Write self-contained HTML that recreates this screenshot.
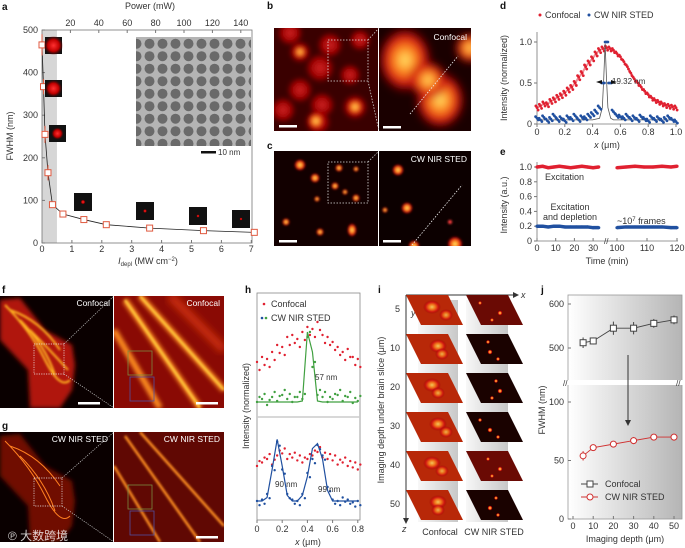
<!DOCTYPE html>
<html><head><meta charset="utf-8">
<style>
html,body{margin:0;padding:0;background:#fff;}
svg{display:block;font-family:"Liberation Sans","Noto Sans CJK SC",sans-serif;}
.t{font-size:9px;fill:#333;}
.s{font-size:8px;fill:#333;}
.L{font-size:10px;font-weight:bold;fill:#111;}
.w{font-size:8.5px;fill:#fff;}
</style></head><body>
<svg id="s" width="685" height="548" viewBox="0 0 685 548">
<defs>
<filter id="b1"><feGaussianBlur stdDeviation="1"/></filter>
<filter id="b2"><feGaussianBlur stdDeviation="2.2"/></filter>
<filter id="b4"><feGaussianBlur stdDeviation="4"/></filter>
<radialGradient id="spot"><stop offset="0" stop-color="#ffec70"/><stop offset="0.35" stop-color="#ff8c20"/><stop offset="0.7" stop-color="#d41212"/><stop offset="1" stop-color="#900000" stop-opacity="0"/></radialGradient>
<radialGradient id="rspot"><stop offset="0" stop-color="#ff3030"/><stop offset="0.6" stop-color="#c00000"/><stop offset="1" stop-color="#600000" stop-opacity="0"/></radialGradient>
<linearGradient id="jbg" x1="0" x2="1"><stop offset="0" stop-color="#fff"/><stop offset="1" stop-color="#b5b5b5"/></linearGradient>
<linearGradient id="ibg" x1="0" x2="1"><stop offset="0" stop-color="#f4f4f4"/><stop offset="1" stop-color="#b0b0b0"/></linearGradient>
<pattern id="tem" width="13" height="12.5" patternUnits="userSpaceOnUse"><rect width="13" height="12.5" fill="#b4b4b4"/><circle cx="6.5" cy="6.2" r="5" fill="#6a6a6a"/></pattern>
<clipPath id="cb1"><rect x="274" y="28" width="104" height="103"/></clipPath>
<clipPath id="cb2"><rect x="379" y="28" width="92" height="103"/></clipPath>
<clipPath id="cc1"><rect x="274" y="151" width="104" height="95"/></clipPath>
<clipPath id="cc2"><rect x="379" y="151" width="92" height="95"/></clipPath>
<clipPath id="cf1"><rect x="0" y="296" width="113" height="112"/></clipPath>
<clipPath id="cf2"><rect x="114" y="296" width="110" height="112"/></clipPath>
<clipPath id="cg1"><rect x="0" y="432" width="113" height="110"/></clipPath>
<clipPath id="cg2"><rect x="114" y="432" width="110" height="110"/></clipPath>
</defs>

<text class="L" x="2" y="10">a</text>
<text class="L" x="267" y="9">b</text>
<text class="L" x="267" y="149">c</text>
<text class="L" x="500" y="9">d</text>
<text class="L" x="500" y="155">e</text>
<text class="L" x="2" y="293">f</text>
<text class="L" x="2" y="429">g</text>
<text class="L" x="245" y="293">h</text>
<text class="L" x="378" y="293">i</text>
<text class="L" x="541" y="293">j</text>

<g clip-path="url(#cb1)"><rect x="274" y="28" width="104" height="103" fill="#3a0000"/><g id="gb1" filter="url(#b2)"></g>
<rect x="328" y="40" width="40" height="41" fill="none" stroke="#ddd" stroke-dasharray="1.5,1.5" stroke-width="0.8"/>
<rect x="279" y="125" width="18" height="2.5" fill="#fff"/></g>
<g clip-path="url(#cb2)"><rect x="379" y="28" width="92" height="103" fill="#1a0000"/><g id="gb2" filter="url(#b4)"></g>
<line x1="410" y1="114" x2="458" y2="56" stroke="#eee" stroke-dasharray="1.5,1.5" stroke-width="0.8"/>
<rect x="383" y="126" width="18" height="2.5" fill="#fff"/>
<text class="w" x="467" y="40" text-anchor="end">Confocal</text></g>
<line x1="368" y1="40" x2="379" y2="28" stroke="#ccc" stroke-dasharray="1.5,1.5" stroke-width="0.8"/>
<line x1="368" y1="81" x2="379" y2="131" stroke="#ccc" stroke-dasharray="1.5,1.5" stroke-width="0.8"/>
<g clip-path="url(#cc1)"><rect x="274" y="151" width="104" height="95" fill="#120000"/><g id="gc1" filter="url(#b1)"></g>
<rect x="328" y="162" width="40" height="41" fill="none" stroke="#ddd" stroke-dasharray="1.5,1.5" stroke-width="0.8"/>
<rect x="279" y="240" width="18" height="2.5" fill="#fff"/></g>
<g clip-path="url(#cc2)"><rect x="379" y="151" width="92" height="95" fill="#0c0000"/><g id="gc2" filter="url(#b1)"></g>
<line x1="412" y1="245" x2="462" y2="185" stroke="#eee" stroke-dasharray="1.5,1.5" stroke-width="0.8"/>
<rect x="383" y="240" width="18" height="2.5" fill="#fff"/>
<text class="w" x="467" y="162" text-anchor="end">CW NIR STED</text></g>
<line x1="368" y1="162" x2="379" y2="151" stroke="#ccc" stroke-dasharray="1.5,1.5" stroke-width="0.8"/>

<g clip-path="url(#cf1)"><rect x="0" y="296" width="113" height="112" fill="#0a0000"/>
<path d="M0,300 L20,298 L45,330 L72,345 L75,365 L72,390 L60,408 L30,408 L28,370 L0,340Z" fill="#b01808" filter="url(#b2)"/>
<path d="M5,305 Q30,330 45,360 T70,380 M10,310 Q40,320 60,350 M20,320 Q45,345 55,375 M30,330 Q50,350 68,370" stroke="#ffb020" stroke-width="2" fill="none" filter="url(#b1)"/>
<rect x="34" y="344" width="30" height="30" fill="none" stroke="#eee" stroke-dasharray="1.2,1.2" stroke-width="0.7"/>
<rect x="78" y="402" width="22" height="2.5" fill="#fff"/>
<text class="w" x="110" y="306" text-anchor="end">Confocal</text></g>
<g clip-path="url(#cf2)"><rect x="114" y="296" width="110" height="112" fill="#8a0a04"/>
<path d="M125,300 L200,408 M114,330 L160,408 M140,296 L224,390" stroke="#ff9020" stroke-width="6" fill="none" filter="url(#b2)"/>
<path d="M125,300 L200,408 M140,296 L224,390" stroke="#ffd040" stroke-width="2" fill="none" filter="url(#b1)"/>
<path d="M170,296 L224,350" stroke="#d03010" stroke-width="8" fill="none" filter="url(#b4)"/>
<rect x="128" y="351" width="24" height="24" fill="none" stroke="#7a8a40" stroke-width="0.8"/>
<rect x="130" y="377" width="24" height="24" fill="none" stroke="#5050a0" stroke-width="0.8"/>
<rect x="196" y="402" width="22" height="2.5" fill="#fff"/>
<text class="w" x="220" y="306" text-anchor="end">Confocal</text></g>
<g clip-path="url(#cg1)"><rect x="0" y="432" width="113" height="110" fill="#0a0000"/>
<path d="M0,436 L20,434 L45,466 L72,481 L75,501 L72,526 L60,542 L30,542 L28,506 L0,476Z" fill="#701005" filter="url(#b2)"/>
<path d="M5,441 Q30,466 45,496 T70,516 M10,446 Q40,456 60,486 M20,456 Q45,481 55,511" stroke="#ff8020" stroke-width="1" fill="none"/>
<rect x="34" y="478" width="28" height="28" fill="none" stroke="#eee" stroke-dasharray="1.2,1.2" stroke-width="0.7"/>
<text class="w" x="108" y="442" text-anchor="end">CW NIR STED</text></g>
<g clip-path="url(#cg2)"><rect x="114" y="432" width="110" height="110" fill="#600803"/>
<path d="M125,436 L200,542 M114,466 L160,542 M140,432 L224,526" stroke="#ff9020" stroke-width="2.5" fill="none" filter="url(#b1)"/>
<rect x="128" y="485" width="24" height="24" fill="none" stroke="#7a8a40" stroke-width="0.8"/>
<rect x="130" y="511" width="24" height="24" fill="none" stroke="#5050a0" stroke-width="0.8"/>
<rect x="196" y="536" width="22" height="2.5" fill="#fff"/>
<text class="w" x="220" y="442" text-anchor="end">CW NIR STED</text></g>
<line x1="64" y1="344" x2="114" y2="296" stroke="#ccc" stroke-dasharray="1.2,1.2" stroke-width="0.7"/>
<line x1="64" y1="374" x2="114" y2="408" stroke="#ccc" stroke-dasharray="1.2,1.2" stroke-width="0.7"/>
<line x1="62" y1="478" x2="114" y2="432" stroke="#ccc" stroke-dasharray="1.2,1.2" stroke-width="0.7"/>
<line x1="62" y1="506" x2="114" y2="542" stroke="#ccc" stroke-dasharray="1.2,1.2" stroke-width="0.7"/>
<text x="8" y="540" font-size="12" fill="#fff" opacity="0.8">℗ 大数跨境</text>

<g id="charts"></g>
</svg>
<script>
var NS="http://www.w3.org/2000/svg";
var root=document.getElementById('charts');
function mk(tag,attrs,parent,txt){var e=document.createElementNS(NS,tag);for(var k in attrs)e.setAttribute(k,attrs[k]);if(txt!==undefined)e.textContent=txt;(parent||root).appendChild(e);return e;}

var aIdepl=[0.0,0.05,0.1,0.2,0.35,0.7,1.4,2.15,3.6,5.4,7.1];
var aFwhm=[465,367,255,165,90,68,55,43,35,29,25];
var aErr=[25,18,20,18,6,8,5,3,3,3,3];
var aXTicks=[0,1,2,3,4,5,6,7];
var aYTicks=[0,100,200,300,400,500];
var aPowerTicks=[20,40,60,80,100,120,140];

var dX=[0,0.025,0.05,0.075,0.1,0.125,0.15,0.175,0.2,0.225,0.25,0.275,0.3,0.325,0.35,0.375,0.4,0.425,0.45,0.475,0.5,0.525,0.55,0.575,0.6,0.625,0.65,0.675,0.7,0.725,0.75,0.775,0.8,0.825,0.85,0.875,0.9,0.925,0.95,0.975,1.0];
var dConfocal=[0.2,0.22,0.25,0.24,0.28,0.3,0.33,0.35,0.38,0.42,0.45,0.5,0.57,0.62,0.7,0.75,0.8,0.86,0.9,0.92,0.93,0.92,0.9,0.86,0.82,0.76,0.7,0.62,0.55,0.5,0.45,0.4,0.36,0.32,0.29,0.27,0.25,0.23,0.22,0.21,0.2];
var dSted=[0.07,0.05,0.08,0.04,0.06,0.1,0.05,0.07,0.04,0.08,0.06,0.1,0.05,0.08,0.07,0.1,0.12,0.15,0.2,0.5,1.0,0.5,0.15,0.1,0.09,0.07,0.1,0.06,0.08,0.05,0.09,0.06,0.04,0.08,0.05,0.07,0.04,0.06,0.08,0.05,0.03];
var dFitX=[0,0.4,0.45,0.47,0.48,0.49,0.5,0.51,0.53,0.55,1.0];
var dFitY=[0.05,0.05,0.07,0.2,0.55,0.98,0.55,0.2,0.07,0.05,0.05];

var eTimeL=[0,3,6,9,12,15,18,21,24,27,30,33];
var eTimeR=[100,103,106,109,112,115,118,120];
var eExcL=[1.0,1.01,0.99,1.0,1.01,1.0,0.99,1.0,1.01,1.0,0.99,1.0];
var eExcR=[0.99,1.0,1.01,1.0,1.0,1.01,1.0,1.01];
var eDepL=[0.2,0.2,0.19,0.2,0.2,0.19,0.19,0.19,0.19,0.19,0.18,0.18];
var eDepR=[0.18,0.19,0.19,0.19,0.19,0.19,0.18,0.18];

var hX=[0,0.04,0.08,0.12,0.16,0.2,0.24,0.28,0.32,0.36,0.4,0.44,0.48,0.52,0.56,0.6,0.64,0.68,0.72,0.76,0.8];
var hConf1=[0.45,0.5,0.48,0.55,0.62,0.6,0.7,0.72,0.68,0.75,0.8,0.78,0.85,0.72,0.7,0.65,0.6,0.55,0.58,0.5,0.48];
var hSted1=[0.05,0.08,0.02,0.1,0.06,0.12,0.08,0.05,0.1,0.08,0.7,0.4,0.12,0.1,0.05,0.08,0.12,0.06,0.1,0.04,0.06];
var hFit1=[0.05,0.05,0.05,0.05,0.05,0.05,0.05,0.05,0.05,0.06,0.75,0.55,0.06,0.05,0.05,0.05,0.05,0.05,0.05,0.05,0.05];
var hConf2=[0.6,0.65,0.7,0.62,0.75,0.78,0.7,0.72,0.68,0.65,0.7,0.75,0.8,0.72,0.7,0.68,0.62,0.65,0.6,0.58,0.55];
var hSted2=[0.1,0.12,0.2,0.6,0.95,0.55,0.2,0.12,0.1,0.2,0.5,0.7,0.9,0.75,0.3,0.12,0.1,0.15,0.12,0.08,0.1];
var hFit2=[0.1,0.1,0.15,0.55,0.98,0.6,0.18,0.1,0.1,0.18,0.45,0.85,0.92,0.7,0.25,0.1,0.1,0.1,0.1,0.1,0.1];

var jDepth=[5,10,20,30,40,50];
var jConfocal=[512,516,545,545,556,564];
var jConfErr=[12,8,15,14,10,10];
var jSted=[54,61,64,67,70,70];
var jStedErr=[4,2,2,3,2,3];
var jXTicks=[0,10,20,30,40,50];
var jYTicksLow=[0,50,100];
var jYTicksHigh=[500,600];

var dXTicks=[0,0.2,0.4,0.6,0.8,1.0];
var dYTicks=[0,0.5,1.0];
var eYTicks=[0,0.2,0.4,0.6,0.8,1.0];
var eXTicksL=[0,10,20,30];
var eXTicksR=[100,110,120];
var hXTicks=[0,0.2,0.4,0.6,0.8];
var iDepths=[5,10,20,30,40,50];

function xa(v){return 42+v*29.9;}
function ya(v){return 243-v*0.426;}
function xp(p){return 42+p*1.42;}
var ga=mk('g',{});


mk('rect',{x:xa(0),y:30,width:xa(0.5)-xa(0),height:213,fill:'#d6d6d6'},ga);
var tem=mk('rect',{x:136,y:37,width:115,height:109,fill:'url(#tem)'},ga);


mk('rect',{x:201,y:151,width:15,height:2.5,fill:'#111'},ga);
mk('text',{x:218,y:155,class:'s'},ga,'10 nm');
mk('rect',{x:42,y:30,width:210,height:213,fill:'none',stroke:'#777','stroke-width':0.8},ga);
aXTicks.forEach(function(t){mk('line',{x1:xa(t),x2:xa(t),y1:243,y2:240,stroke:'#777'},ga);mk('text',{x:xa(t),y:252,class:'t','text-anchor':'middle'},ga,t);});
aYTicks.forEach(function(t){mk('line',{x1:42,x2:45,y1:ya(t),y2:ya(t),stroke:'#777'},ga);mk('text',{x:38,y:ya(t)+3,class:'t','text-anchor':'end'},ga,t);});
aPowerTicks.forEach(function(t){mk('line',{x1:xp(t),x2:xp(t),y1:30,y2:33,stroke:'#777'},ga);mk('text',{x:xp(t),y:26,class:'t','text-anchor':'middle'},ga,t);});
var at=mk('text',{x:150,y:9,class:'t','text-anchor':'middle'},ga,'Power (mW)');


var ay=mk('text',{x:13,y:136,class:'t','text-anchor':'middle',transform:'rotate(-90 13 136)'},ga,'FWHM (nm)');


var ax=mk('text',{x:148,y:264,class:'t','text-anchor':'middle'},ga);


ax.innerHTML='<tspan font-style="italic">I</tspan><tspan font-size="6" dy="2">depl</tspan><tspan dy="-2"> (MW cm</tspan><tspan font-size="6" dy="-3">−2</tspan><tspan dy="3">)</tspan>';
var pa=aIdepl.map(function(v,i){return xa(v)+','+ya(aFwhm[i]);}).join(' ');
mk('polyline',{points:pa,fill:'none',stroke:'#222','stroke-width':0.8},ga);
aIdepl.forEach(function(v,i){
 mk('line',{x1:xa(v),x2:xa(v),y1:ya(aFwhm[i]-aErr[i]),y2:ya(aFwhm[i]+aErr[i]),stroke:'#e05a40'},ga);
 var m=mk('rect',{x:xa(v)-3,y:ya(aFwhm[i])-3,width:6,height:6,fill:'#fff',stroke:'#e05a40','stroke-width':1},ga);
 
 
});
[[45,37,17,0.95],[45,80,17,0.85],[49,125,17,0.6],[74,193,18,0.22],[136,202,18,0.18],[189,207,18,0.15],[232,210,18,0.14]].forEach(function(b){
 var g=mk('g',{},ga);
 
 
 mk('rect',{x:b[0],y:b[1],width:b[2],height:b[2],fill:'#111'},g);
 mk('circle',{cx:b[0]+b[2]/2,cy:b[1]+b[2]/2,r:b[2]*b[3]*0.6,fill:'url(#rspot)'},g);
});

function spots(id,list,grad,op){var g=document.getElementById(id);list.forEach(function(s){mk('ellipse',{cx:s[0],cy:s[1],rx:s[2],ry:s[3]||s[2],fill:'url(#'+(grad||'spot')+')',opacity:op||1},g);});}
spots('gb1',[[290,33,14],[300,52,12],[320,68,16],[350,75,12],[300,90,14],[322,105,14],[318,122,14],[355,107,14],[283,110,14],[360,40,12],[330,45,14]],'rspot',0.75);
spots('gb1',[[316,121,9],[355,107,9],[300,52,7]]);
spots('gb2',[[405,60,28,34],[440,100,26,30],[470,48,16],[428,80,20]]);
spots('gc1',[[300,165,6],[315,178,5],[339,168,4],[335,186,4],[345,192,3],[356,169,3],[356,198,4],[286,222,4],[320,232,4],[352,230,5,7],[317,199,3]]);
spots('gc2',[[398,170,6],[407,208,6],[414,246,6],[455,244,8],[385,210,3]]);
mk('circle',{cx:450,cy:222,r:2,fill:'#ff4040'},document.getElementById('gc2'));

function xd(v){return 537+v*139;}
function yd(v){return 124-v*82;}
var gd=mk('g',{});


mk('line',{x1:537,x2:537,y1:32,y2:124,stroke:'#777','stroke-width':0.8},gd);
mk('line',{x1:537,x2:678,y1:124,y2:124,stroke:'#777','stroke-width':0.8},gd);
dXTicks.forEach(function(t){mk('line',{x1:xd(t),x2:xd(t),y1:124,y2:127,stroke:'#777'},gd);mk('text',{x:xd(t),y:135,class:'t','text-anchor':'middle'},gd,t===1?'1.0':t);});
dYTicks.forEach(function(t){mk('line',{x1:534,x2:537,y1:yd(t),y2:yd(t),stroke:'#777'},gd);mk('text',{x:532,y:yd(t)+3,class:'t','text-anchor':'end'},gd,t===0?'0':t.toFixed(1));});
mk('text',{x:507,y:78,class:'t','text-anchor':'middle',transform:'rotate(-90 507 78)'},gd,'Intensity (normalized)');
var dxl=mk('text',{x:607,y:148,class:'t','text-anchor':'middle'},gd);dxl.innerHTML='<tspan font-style="italic">x</tspan> (μm)';
mk('circle',{cx:540,cy:15,r:1.5,fill:'#e02030'},gd);mk('text',{x:545,y:18,class:'t'},gd,'Confocal');
mk('circle',{cx:589,cy:15,r:1.5,fill:'#2050a0'},gd);mk('text',{x:594,y:18,class:'t'},gd,'CW NIR STED');
dX.forEach(function(v,i){
 [[-0.008,0.02],[0.008,-0.03],[0,0]].forEach(function(o){
  var c=mk('circle',{cx:xd(v+o[0]),cy:yd(dConfocal[i]+o[1]),r:1.4,fill:'#e02030'},gd);
  
  
 });
});
mk('polyline',{points:dX.map(function(v,i){return xd(v)+','+yd(dConfocal[i]);}).join(' '),fill:'none',stroke:'#e02030','stroke-width':2,opacity:0.5},gd);
mk('polyline',{points:dFitX.map(function(v,i){return xd(v)+','+yd(dFitY[i]);}).join(' '),fill:'none',stroke:'#555','stroke-width':0.8},gd);
dX.forEach(function(v,i){
 [[-0.01,0.02],[0.01,-0.02],[0,0]].forEach(function(o){
  var c=mk('circle',{cx:xd(v+o[0]),cy:yd(Math.max(0,dSted[i]+(dSted[i]>0.3?0:o[1]))),r:1.4,fill:'#2050a0'},gd);
  
  
 });
});
mk('text',{x:612,y:84,class:'s'},gd,'19.32 nm');
mk('path',{d:'M596,82 l6,-2 v4z M617,82 l-6,-2 v4z',fill:'#111'},gd);

function xe(t){return t<=35?537+t*1.87:617+(t-100)*3;}
function ye(v){return 241-v*74;}
var ge=mk('g',{});


mk('line',{x1:537,x2:537,y1:162,y2:241,stroke:'#777','stroke-width':0.8},ge);
mk('line',{x1:537,x2:678,y1:241,y2:241,stroke:'#777','stroke-width':0.8},ge);
eYTicks.forEach(function(t){mk('line',{x1:534,x2:537,y1:ye(t),y2:ye(t),stroke:'#777'},ge);mk('text',{x:532,y:ye(t)+3,class:'t','text-anchor':'end'},ge,t===0?'0':t.toFixed(1));});
eXTicksL.concat(eXTicksR).forEach(function(t){mk('line',{x1:xe(t),x2:xe(t),y1:241,y2:238,stroke:'#777'},ge);mk('text',{x:xe(t),y:251,class:'t','text-anchor':'middle'},ge,t);});
mk('text',{x:604,y:244,class:'s'},ge,'//');
mk('text',{x:507,y:205,class:'t','text-anchor':'middle',transform:'rotate(-90 507 205)'},ge,'Intensity (a.u.)');
mk('text',{x:607,y:264,class:'t','text-anchor':'middle'},ge,'Time (min)');
function band(ts,vs,col){mk('polyline',{points:ts.map(function(t,i){return xe(t)+','+ye(vs[i]);}).join(' '),fill:'none',stroke:col,'stroke-width':3.5},ge);
 ts.forEach(function(t,i){var c=mk('circle',{cx:xe(t),cy:ye(vs[i]),r:1.6,fill:col},ge);});}
band(eTimeL,eExcL,'#e02030');band(eTimeR,eExcR,'#e02030');band(eTimeL,eDepL,'#2050a0');band(eTimeR,eDepR,'#2050a0');
mk('text',{x:545,y:180,class:'t'},ge,'Excitation');
mk('text',{x:570,y:210,class:'t','text-anchor':'middle'},ge,'Excitation');
mk('text',{x:570,y:220,class:'t','text-anchor':'middle'},ge,'and depletion');
var fr=mk('text',{x:617,y:224,class:'t'},ge);fr.innerHTML='~10<tspan font-size="6" dy="-3">7</tspan><tspan dy="3"> frames</tspan>';

function xh(v){return 257+v*126;}
function yh1(v){return 407-v*100;}
function yh2(v){return 508-v*70;}
var gh=mk('g',{});


mk('rect',{x:257,y:293,width:103,height:227,fill:'none',stroke:'#888','stroke-width':0.8},gh);
mk('line',{x1:257,x2:360,y1:417,y2:417,stroke:'#ccc','stroke-width':1.5},gh);
hXTicks.forEach(function(t){mk('line',{x1:xh(t),x2:xh(t),y1:520,y2:523,stroke:'#777'},gh);mk('text',{x:xh(t),y:532,class:'t','text-anchor':'middle'},gh,t);});
var hxl=mk('text',{x:308,y:545,class:'t','text-anchor':'middle'},gh);hxl.innerHTML='<tspan font-style="italic">x</tspan> (μm)';
mk('text',{x:249,y:406,class:'t','text-anchor':'middle',transform:'rotate(-90 249 406)'},gh,'Intensity (normalized)');
mk('circle',{cx:264,cy:304,r:1.3,fill:'#e02030'},gh);mk('text',{x:271,y:307,class:'t'},gh,'Confocal');
mk('circle',{cx:262,cy:318,r:1.3,fill:'#2050a0'},gh);mk('circle',{cx:266,cy:318,r:1.3,fill:'#40a040'},gh);mk('text',{x:271,y:321,class:'t'},gh,'CW NIR STED');
function hpts(arr,yf,col,dy){hX.forEach(function(v,i){[[0,0],[0.02,dy]].forEach(function(o){var c=mk('circle',{cx:xh(v+o[0]),cy:yf(arr[i]+o[1]),r:1.2,fill:col},gh);});});}
function hline(arr,yf,col){mk('polyline',{points:hX.map(function(v,i){return xh(v)+','+yf(arr[i]);}).join(' '),fill:'none',stroke:col,'stroke-width':1.2},gh);}
hpts(hConf1,yh1,'#e02030',-0.08);hpts(hSted1,yh1,'#40a040',0.05);hline(hFit1,yh1,'#40a040');
hpts(hConf2,yh2,'#e02030',0.07);hpts(hSted2,yh2,'#2050a0',-0.06);hline(hFit2,yh2,'#2050a0');
mk('text',{x:315,y:380,class:'s',fill:'#d02040'},gh,'57 nm');
mk('text',{x:275,y:487,class:'s',fill:'#d02040'},gh,'90 nm');
mk('text',{x:318,y:492,class:'s',fill:'#d02040'},gh,'99 nm');

var gi=mk('g',{});


mk('line',{x1:406,x2:406,y1:295,y2:522,stroke:'#333'},gi);
mk('path',{d:'M403,518 l3,6 l3,-6z',fill:'#333'},gi);
mk('line',{x1:406,x2:515,y1:295,y2:295,stroke:'#333'},gi);
mk('path',{d:'M513,292 l6,3 l-6,3z',fill:'#333'},gi);
mk('text',{x:521,y:298,class:'t','font-style':'italic'},gi,'x');
mk('text',{x:402,y:532,class:'t','font-style':'italic'},gi,'z');
mk('text',{x:411,y:316,class:'t','font-style':'italic'},gi,'y');
mk('text',{x:384,y:410,class:'t','text-anchor':'middle',transform:'rotate(-90 384 410)'},gi,'Imaging depth under brain slice (μm)');
mk('rect',{x:418,y:300,width:40,height:222,fill:'url(#ibg)',opacity:0.7},gi);
mk('rect',{x:466,y:300,width:42,height:222,fill:'url(#ibg)',opacity:0.7},gi);
iDepths.forEach(function(d,k){
 var y=295+k*39;
 mk('text',{x:400,y:y+17,class:'t','text-anchor':'end'},gi,d);
 var p1=mk('path',{d:'M406,'+y+' h42 l15,30 h-42z',fill:'#b82808'},gi);
 
 
 mk('ellipse',{cx:432+(k%2)*6,cy:y+12,rx:9,ry:7,fill:'url(#spot)',opacity:0.8},gi);
 mk('ellipse',{cx:446-(k%3)*4,cy:y+20,rx:7,ry:6,fill:'url(#spot)',opacity:0.7},gi);
 var p2=mk('path',{d:'M466,'+y+' h42 l15,30 h-42z',fill:k===0||k===4?'#6a0a04':'#1a0200'},gi);
 
 
 mk('circle',{cx:480+(k%3)*8,cy:y+8,r:2,fill:'url(#spot)'},gi);
 mk('circle',{cx:500-(k%2)*10,cy:y+18,r:2.5,fill:'url(#spot)'},gi);
 mk('circle',{cx:492+(k%2)*6,cy:y+25,r:2,fill:'url(#spot)'},gi);
});
mk('text',{x:440,y:535,class:'t','text-anchor':'middle'},gi,'Confocal');
mk('text',{x:494,y:535,class:'t','text-anchor':'middle'},gi,'CW NIR STED');

function xj(v){return 573+v*2.02;}
function yj(v){return v>=300?348-(v-500)*0.44:519-v*1.17;}
var gj=mk('g',{});


mk('rect',{x:568,y:295,width:114,height:224,fill:'url(#jbg)',stroke:'#999','stroke-width':0.8},gj);
mk('rect',{x:564,y:380,width:122,height:5,fill:'#fff'},gj);
mk('text',{x:563,y:386,class:'s'},gj,'//');
mk('text',{x:676,y:386,class:'s'},gj,'//');
jXTicks.forEach(function(t){mk('line',{x1:xj(t),x2:xj(t),y1:519,y2:516,stroke:'#777'},gj);mk('text',{x:xj(t),y:529,class:'t','text-anchor':'middle'},gj,t);});
jYTicksLow.concat(jYTicksHigh).forEach(function(t){mk('line',{x1:568,x2:571,y1:yj(t),y2:yj(t),stroke:'#777'},gj);mk('text',{x:564,y:yj(t)+3,class:'t','text-anchor':'end'},gj,t);});
mk('text',{x:625,y:542,class:'t','text-anchor':'middle'},gj,'Imaging depth (μm)');
mk('text',{x:545,y:410,class:'t','text-anchor':'middle',transform:'rotate(-90 545 410)'},gj,'FWHM (nm)');
mk('line',{x1:628,x2:628,y1:355,y2:420,stroke:'#333'},gj);
mk('path',{d:'M625,420 l3,6 l3,-6z',fill:'#333'},gj);
mk('polyline',{points:jDepth.map(function(d,i){return xj(d)+','+yj(jConfocal[i]);}).join(' '),fill:'none',stroke:'#444','stroke-width':0.9},gj);
mk('polyline',{points:jDepth.map(function(d,i){return xj(d)+','+yj(jSted[i]);}).join(' '),fill:'none',stroke:'#d03030','stroke-width':0.9},gj);
jDepth.forEach(function(d,i){
 mk('line',{x1:xj(d),x2:xj(d),y1:yj(jConfocal[i]-jConfErr[i]),y2:yj(jConfocal[i]+jConfErr[i]),stroke:'#444'},gj);
 var m=mk('rect',{x:xj(d)-3,y:yj(jConfocal[i])-3,width:6,height:6,fill:'#fff',stroke:'#444'},gj);
 
 
 mk('line',{x1:xj(d),x2:xj(d),y1:yj(jSted[i]-jStedErr[i]),y2:yj(jSted[i]+jStedErr[i]),stroke:'#d03030'},gj);
 var c=mk('circle',{cx:xj(d),cy:yj(jSted[i]),r:3,fill:'#fff',stroke:'#d03030'},gj);
 
 
});
mk('line',{x1:581,x2:598,y1:484,y2:484,stroke:'#444'},gj);mk('rect',{x:587,y:481,width:6,height:6,fill:'#fff',stroke:'#444'},gj);
mk('text',{x:605,y:487,class:'t'},gj,'Confocal');
mk('line',{x1:581,x2:598,y1:497,y2:497,stroke:'#d03030'},gj);mk('circle',{cx:590,cy:497,r:3,fill:'#fff',stroke:'#d03030'},gj);
mk('text',{x:605,y:500,class:'t'},gj,'CW NIR STED');
</script>
</body></html>
